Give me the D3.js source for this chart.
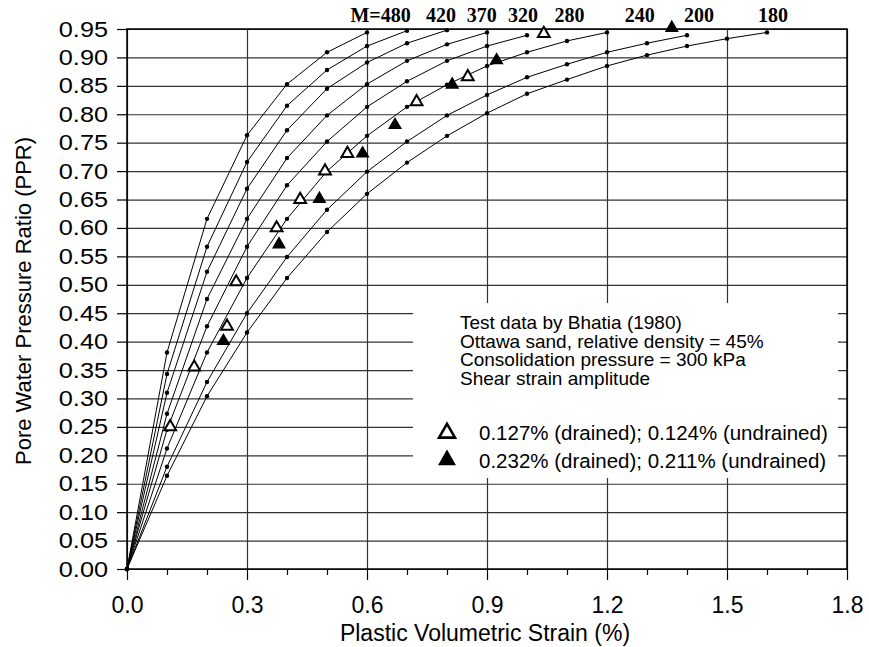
<!DOCTYPE html>
<html lang="en">
<head>
<meta charset="utf-8">
<title>Pore Water Pressure Ratio vs Plastic Volumetric Strain</title>
<script src="https://cdn.jsdelivr.net/npm/d3@7"></script>
<style>
  body { margin: 0; background: #fff; }
  svg { display: block; }
  .axis text { font-family: "Liberation Sans", Arial, sans-serif; fill: #000; }
  .axis line { stroke: #000; stroke-width: 1.2; }
  .grid line { stroke: #333; stroke-width: 1.2; }
  .curve { fill: none; stroke: #000; stroke-width: 1; }
  .mlabel { font-family: "Liberation Serif", "Times New Roman", serif; font-weight: bold; font-size: 20px; }
  .note { font-family: "Liberation Sans", Arial, sans-serif; font-size: 19px; }
  .leg { font-family: "Liberation Sans", Arial, sans-serif; font-size: 20.5px; }
</style>
</head>
<body>
<div id="chart"></div>
<script>
// strain steps (%) at which every M curve was computed
var strain = [0, 0.1, 0.2, 0.3, 0.4, 0.5, 0.6, 0.7, 0.8, 0.9, 1.0, 1.1, 1.2, 1.3, 1.4, 1.5, 1.6];

// PPR along each curve, one value per strain step
var m480 = [0, 0.381, 0.616, 0.763, 0.853, 0.909, 0.944];
var m420 = [0, 0.343, 0.567, 0.716, 0.815, 0.878, 0.920, 0.947];
var m370 = [0, 0.310, 0.523, 0.669, 0.772, 0.845, 0.891, 0.925, 0.948];
var m320 = [0, 0.273, 0.475, 0.616, 0.723, 0.798, 0.853, 0.894, 0.923, 0.944];
var m280 = [0, 0.245, 0.427, 0.567, 0.675, 0.752, 0.813, 0.858, 0.894, 0.920, 0.939];
var m240 = [0, 0.212, 0.381, 0.512, 0.616, 0.700, 0.762, 0.813, 0.852, 0.885, 0.909, 0.929, 0.944];
var m200 = [0, 0.180, 0.329, 0.450, 0.549, 0.632, 0.699, 0.752, 0.798, 0.834, 0.865, 0.888, 0.909, 0.925, 0.939];
var m180 = [0, 0.164, 0.304, 0.416, 0.512, 0.593, 0.660, 0.715, 0.762, 0.802, 0.836, 0.861, 0.885, 0.904, 0.920, 0.933, 0.944];

var curveNames = ["M=480", "420", "370", "320", "280", "240", "200", "180"];
var labelStrain = [0.634, 0.785, 0.887, 0.99, 1.106, 1.282, 1.43, 1.615];

// Bhatia (1980) test data
var openStrain = [0.108, 0.168, 0.25, 0.273, 0.374, 0.433, 0.495, 0.551, 0.724, 0.852, 1.042];
var openPPR    = [0.25, 0.355, 0.427, 0.505, 0.60, 0.65, 0.70, 0.731, 0.822, 0.866, 0.942];
var fullStrain = [0.241, 0.38, 0.481, 0.589, 0.67, 0.813, 0.924, 1.362];
var fullPPR    = [0.401, 0.571, 0.651, 0.731, 0.781, 0.852, 0.895, 0.952];

var xTicks = [0, 0.3, 0.6, 0.9, 1.2, 1.5, 1.8];
var xMinor = [0.1, 0.2, 0.4, 0.5, 0.7, 0.8, 1.0, 1.1, 1.3, 1.4, 1.6, 1.7];
var yTicks = [0, 0.05, 0.10, 0.15, 0.20, 0.25, 0.30, 0.35, 0.40, 0.45, 0.50,
              0.55, 0.60, 0.65, 0.70, 0.75, 0.80, 0.85, 0.90, 0.95];

var noteLines = ["Test data by Bhatia (1980)", "Ottawa sand, relative density = 45%",
                 "Consolidation pressure = 300 kPa", "Shear strain amplitude"];
var legendLines = ["0.127% (drained); 0.124% (undrained)", "0.232% (drained); 0.211% (undrained)"];

var w = 869, h = 647;
var pLeft = 127, pRight = 847, pTop = 29, pBottom = 569;

var svg = d3.select("#chart").append("svg").attr("width", w).attr("height", h);

var x = d3.scaleLinear().domain([0, 1.8]).range([pLeft, pRight]);
var y = d3.scaleLinear().domain([0, 0.95]).range([pBottom, pTop]);

// grid
svg.append("g").attr("class", "grid")
  .attr("transform", "translate(0," + pBottom + ")")
  .call(d3.axisBottom(x).tickValues(xTicks).tickSize(-(pBottom - pTop)).tickFormat(""))
  .call(function(g) { g.select(".domain").remove(); });
svg.append("g").attr("class", "grid")
  .attr("transform", "translate(" + pLeft + ",0)")
  .call(d3.axisLeft(y).tickValues(yTicks).tickSize(-(pRight - pLeft)).tickFormat(""))
  .call(function(g) { g.select(".domain").remove(); });

// blank box behind the notes
svg.append("rect").attr("x", 413).attr("y", 303).attr("width", 425).attr("height", 175).attr("fill", "#fff");

// axes
svg.append("g").attr("class", "axis")
  .attr("transform", "translate(0," + pBottom + ")")
  .call(d3.axisBottom(x).tickValues(xMinor).tickSize(6).tickFormat(""))
  .call(function(g) { g.select(".domain").remove(); });
svg.append("g").attr("class", "axis")
  .attr("transform", "translate(0," + pBottom + ")")
  .call(d3.axisBottom(x).tickValues(xTicks).tickSize(11).tickPadding(17).tickFormat(d3.format(".1f")))
  .call(function(g) { g.select(".domain").remove(); })
  .selectAll("text").style("font-size", "23px");
// y labels in the original are a little wider than Arial, so stretch them
svg.append("g").attr("class", "axis")
  .attr("transform", "translate(" + pLeft + ",0)")
  .call(d3.axisLeft(y).tickValues(yTicks).tickSize(10).tickPadding(9).tickFormat(d3.format(".2f")))
  .call(function(g) { g.select(".domain").remove(); })
  .selectAll("text").style("font-size", "22px")
  .attr("x", 0).attr("transform", "translate(-19,0) scale(1.15,1)");

svg.append("rect").attr("x", pLeft).attr("y", pTop)
  .attr("width", pRight - pLeft).attr("height", pBottom - pTop)
  .attr("fill", "none").attr("stroke", "#000").attr("stroke-width", 1.5);

// curves
var curves = [m480, m420, m370, m320, m280, m240, m200, m180].map(function(vals) {
  return vals.map(function(v, i) { return [strain[i], v]; });
});
var line = d3.line().x(function(d) { return x(d[0]); }).y(function(d) { return y(d[1]); });

svg.selectAll(".curve").data(curves).enter().append("path")
  .attr("class", "curve").attr("d", line);

curves.forEach(function(pts) {
  svg.append("g").selectAll("circle").data(pts).enter().append("circle")
    .attr("cx", function(d) { return x(d[0]); })
    .attr("cy", function(d) { return y(d[1]); })
    .attr("r", 2.2).attr("fill", "#000");
});

svg.selectAll(".mlabel").data(curveNames).enter().append("text")
  .attr("class", "mlabel")
  .attr("x", function(d, i) { return x(labelStrain[i]); })
  .attr("y", 22)
  .attr("text-anchor", "middle")
  .text(function(d) { return d; });

// test data triangles
var tri = d3.symbol().type(d3.symbolTriangle);
svg.append("g").selectAll("path").data(openStrain).enter().append("path")
  .attr("d", tri.size(60)())
  .attr("transform", function(d, i) { return "translate(" + x(d) + "," + y(openPPR[i]) + ")"; })
  .attr("fill", "#fff").attr("stroke", "#000").attr("stroke-width", 2);
svg.append("g").selectAll("path").data(fullStrain).enter().append("path")
  .attr("d", tri.size(85)())
  .attr("transform", function(d, i) { return "translate(" + x(d) + "," + y(fullPPR[i]) + ")"; })
  .attr("fill", "#000");

// notes and legend
svg.selectAll(".note").data(noteLines).enter().append("text")
  .attr("class", "note").attr("x", 460)
  .attr("y", function(d, i) { return 329 + i * 18.6; })
  .text(function(d) { return d; });

svg.selectAll(".leg").data(legendLines).enter().append("text")
  .attr("class", "leg").attr("x", 479)
  .attr("y", function(d, i) { return 440 + i * 28; })
  .text(function(d) { return d; });

svg.append("path").attr("d", tri.size(110)())
  .attr("transform", "translate(447,433)")
  .attr("fill", "#fff").attr("stroke", "#000").attr("stroke-width", 2.6);
svg.append("path").attr("d", tri.size(140)())
  .attr("transform", "translate(447,460)")
  .attr("fill", "#000");

// axis titles
svg.append("text").attr("x", 485).attr("y", 641).attr("text-anchor", "middle")
  .style("font-family", "Liberation Sans, Arial, sans-serif").style("font-size", "23px")
  .text("Plastic Volumetric Strain (%)");
svg.append("text").attr("transform", "translate(31,301) rotate(-90)").attr("text-anchor", "middle")
  .style("font-family", "Liberation Sans, Arial, sans-serif").style("font-size", "22px")
  .text("Pore Water Pressure Ratio (PPR)");
</script>
</body>
</html>
